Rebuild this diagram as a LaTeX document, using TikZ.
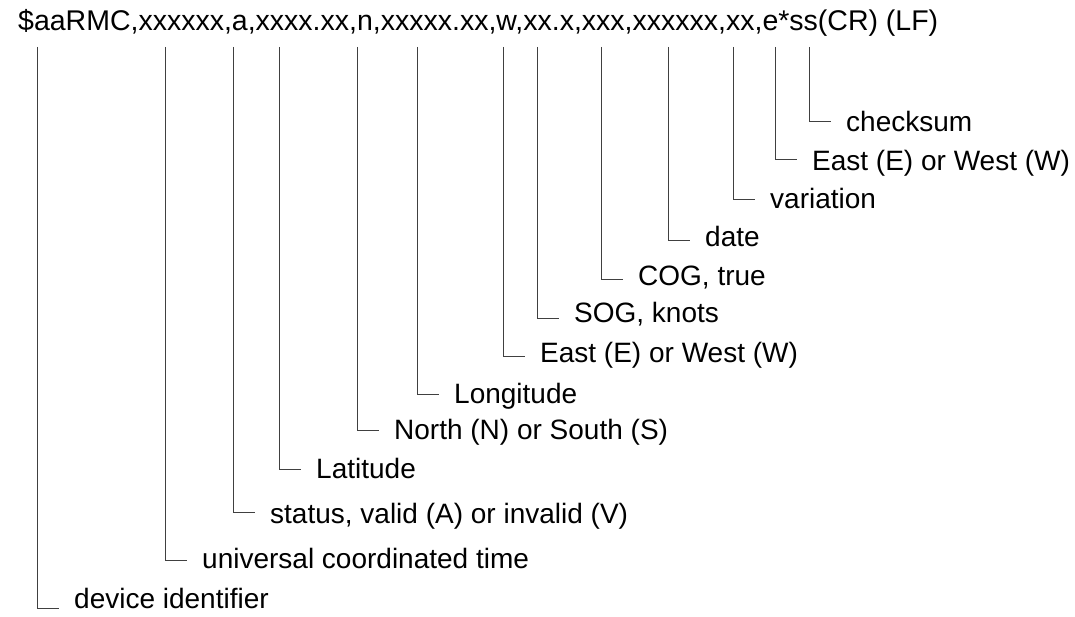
\documentclass[tikz,border=0pt]{standalone}
\usepackage{fontspec}
\setmainfont{Liberation Sans}
\usetikzlibrary{calc}
\begin{document}
\begin{tikzpicture}[x=1pt,y=-1pt,
  lab/.style={font=\fontsize{28}{30}\selectfont, inner sep=0pt, anchor=base west},
  headtext/.style={font=\fontsize{28.5}{30}\selectfont, inner sep=0pt, anchor=base west},
  conn/.style={draw=black!75, line width=0.9pt}]
\useasboundingbox (0,0) rectangle (1075,617);
\node[headtext] (head) at (18,31) {\$aaRMC,xxxxxx,a,xxxx.xx,n,xxxxx.xx,w,xx.x,xxx,xxxxxx,xx,e*ss(CR) (LF)};
\foreach \i/\x/\e/\b/\t in {
  1/37/608/608/{device identifier},
  2/165/560/568/{universal coordinated time},
  3/233/512/523/{status, valid (A) or invalid (V)},
  4/279/469/478/{Latitude},
  5/357/430/439/{North (N) or South (S)},
  6/417/394/403/{Longitude},
  7/503/356/362/{East (E) or West (W)},
  8/537/318/323/{SOG, knots},
  9/601/279/286/{COG, true},
  10/668/240/247/{date},
  11/733/199/209/{variation},
  12/775/159/171/{East (E) or West (W)},
  13/809/121/132/{checksum}} {
  \coordinate (t\i) at (\x,47);
  \coordinate (e\i) at (0,\e);
  \node[lab] (l\i) at (\x+37,\b) {\t};
  \draw[conn] (t\i) |- ($(l\i.base west |- e\i)+(-15,0)$);
}
\end{tikzpicture}
\end{document}
